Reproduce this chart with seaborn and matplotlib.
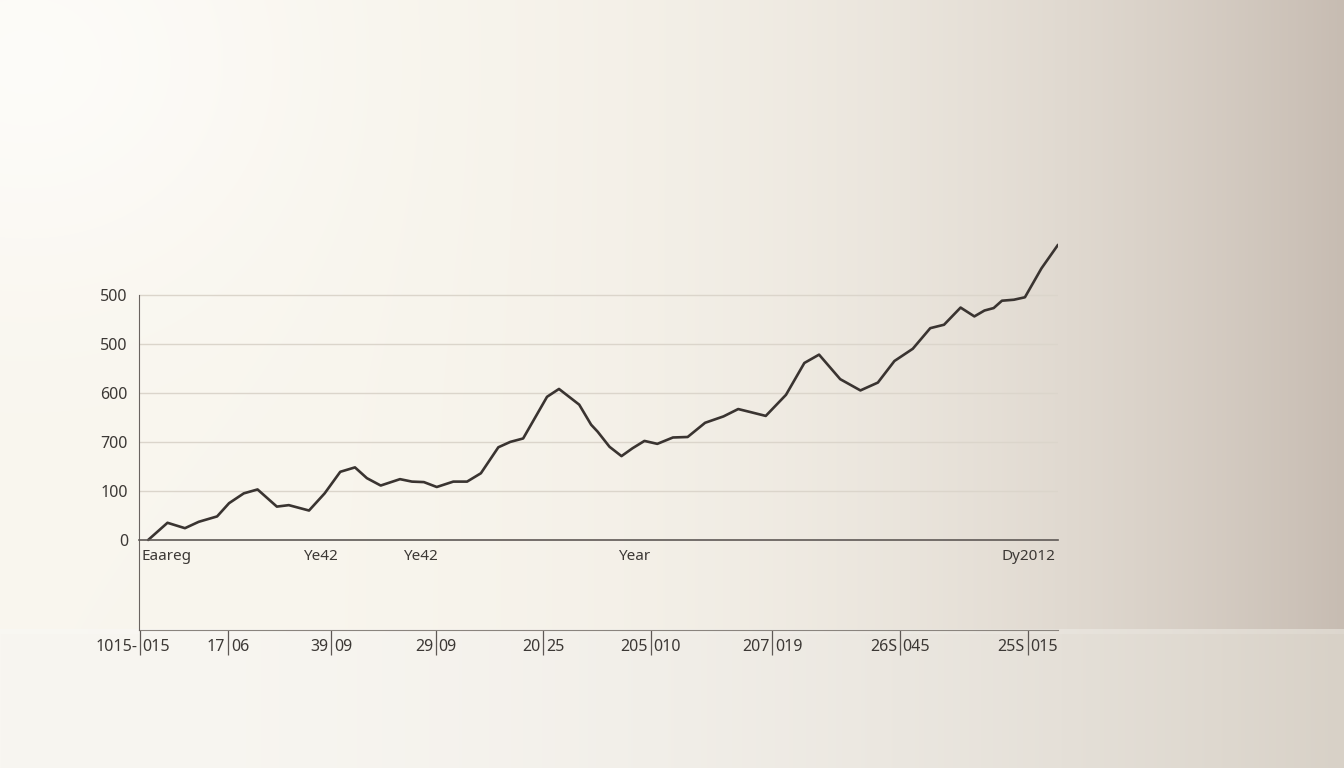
import numpy as np
import pandas as pd
import matplotlib
matplotlib.use("Agg")
import matplotlib.pyplot as plt
import seaborn as sns

# line data (x in % of axis width, y in value units: 100 per grid step)
x_pos = [1.0, 3.1, 5.0, 6.5, 8.5, 9.8, 11.4, 12.9, 15.0, 16.3, 18.5, 20.2, 21.9, 23.5,
         24.8, 26.3, 28.4, 29.7, 31.0, 32.4, 34.2, 35.7, 37.2, 39.1, 40.4, 41.8, 44.4,
         45.7, 47.9, 49.2, 49.9, 51.2, 52.5, 53.7, 55.0, 56.4, 58.1, 59.7, 61.6, 63.6,
         65.2, 66.5, 68.2, 70.4, 72.4, 74.0, 76.3, 78.5, 80.4, 82.2, 84.2, 86.1, 87.6,
         89.4, 90.9, 92.0, 93.0, 93.9, 95.2, 96.4, 98.2, 100.0]
values = [0, 35, 24, 37, 48, 75, 95, 103, 68, 71, 60, 95, 139, 148,
          126, 111, 124, 119, 118, 108, 119, 119, 136, 189, 200, 207, 292,
          308, 276, 235, 221, 190, 171, 187, 202, 196, 209, 210, 239, 252,
          267, 261, 253, 296, 361, 378, 328, 305, 321, 365, 390, 432, 439,
          474, 456, 468, 473, 488, 490, 495, 554, 602]

y_ticks = [0, 100, 200, 300, 400, 500]
y_labels = ["0", "100", "700", "600", "500", "500"]

top_ticks = [0, 17.5, 28.4, 51.8, 93.6, 100]
top_labels = ["Eaareg", "Ye42", "Ye42", "Year", "Dy2012", ""]

bottom_ticks = [0.1, 9.7, 20.9, 32.3, 44.0, 55.7, 68.9, 82.8, 96.7]
bottom_labels = ["1015-/015", "17/06", "39/09", "29/09", "20/25", "205/010",
                 "207/019", "26S/045", "25S/015"]

sns.set_style("white")
plt.rcParams['font.family'] = ['Noto Sans', 'DejaVu Sans']

fig = plt.figure(figsize=(13.44, 7.68), dpi=100)

# background gradient
W, H = 1344, 768
xx, yy = np.meshgrid(np.arange(W) / W, np.arange(H) / H)
light = np.array([249, 246, 238]) / 255
dark = np.array([199, 188, 178]) / 255
t = (xx ** 3.0)[..., None]
bg = light + (dark - light) * t
glow = np.exp(-(((xx - 0.02) / 0.2) ** 2 + ((yy - 0.08) / 0.3) ** 2))[..., None]
bg = bg + (1 - bg) * 0.6 * glow
band = yy > 628 / H
blight = np.array([248, 246, 241]) / 255
bdark = np.array([216, 209, 199]) / 255
bband = blight + (bdark - blight) * (xx ** 2.2)[..., None]
bg = np.where(band[..., None], bband, bg)
seam = (yy > 628 / H) & (yy < 634 / H)
bg = np.where(seam[..., None], bg + (1 - bg) * 0.12, bg)
bgax = fig.add_axes([0, 0, 1, 1])
bgax.imshow(np.clip(bg, 0, 1), aspect="auto", extent=[0, 1, 0, 1], origin="upper",
            interpolation="bilinear")
bgax.axis("off")

ax = fig.add_axes([139 / W, 1 - 630 / H, (1058 - 139) / W, (630 - 236) / H])
ax.patch.set_alpha(0)

df = pd.DataFrame({"x": x_pos, "value": values})
sns.lineplot(data=df, x="x", y="value", ax=ax, color="#3a3431", linewidth=1.9)

ax.set_xlim(0, 100)
ax.set_ylim(-183.7, 620)
ax.set_xlabel("")
ax.set_ylabel("")

for v in y_ticks[1:]:
    ax.axhline(v, color="#dbd5cb", linewidth=1.0, zorder=0)

ax.spines["top"].set_visible(False)
ax.spines["right"].set_visible(False)
ax.spines["left"].set_bounds(-183.7, 500)
ax.spines["left"].set_color("#6a6460")
ax.spines["bottom"].set_position(("data", 0))
ax.spines["bottom"].set_color("#5e5855")
ax.spines["bottom"].set_linewidth(1.2)

ax.set_yticks(y_ticks)
ax.set_yticklabels(y_labels)
ax.tick_params(axis="y", direction="out", length=4, width=0.8, color="#6a6460",
               labelsize=11.5, labelcolor="#3c3835", pad=4)

ax.set_xticks(top_ticks)
ax.set_xticklabels([""] * len(top_ticks))
ax.tick_params(axis="x", direction="out", length=10, width=0.8, color="#8a847e")
for xt, lab in zip(top_ticks, top_labels):
    ax.annotate(lab, xy=(xt, 0), xycoords="data", xytext=(2, -12),
                textcoords="offset points", ha="left", va="center",
                fontsize=11, color="#3c3835")

# lower axis
sec = ax.secondary_xaxis(0.0)
sec.spines["bottom"].set_color("#8a847e")
sec.set_xticks(bottom_ticks)
sec.set_xticklabels([""] * len(bottom_ticks))
sec.tick_params(axis="x", direction="out", length=18, width=0.9, color="#5e5855")
for xt, lab in zip(bottom_ticks, bottom_labels):
    left, right = lab.split("/")
    ax.annotate(left, xy=(xt, 0), xycoords=("data", "axes fraction"), xytext=(-2, -12),
                textcoords="offset points", ha="right", va="center",
                fontsize=11.5, color="#3c3835")
    ax.annotate(right, xy=(xt, 0), xycoords=("data", "axes fraction"), xytext=(2, -12),
                textcoords="offset points", ha="left", va="center",
                fontsize=11.5, color="#3c3835")

fig.savefig("out.png", dpi=100)
